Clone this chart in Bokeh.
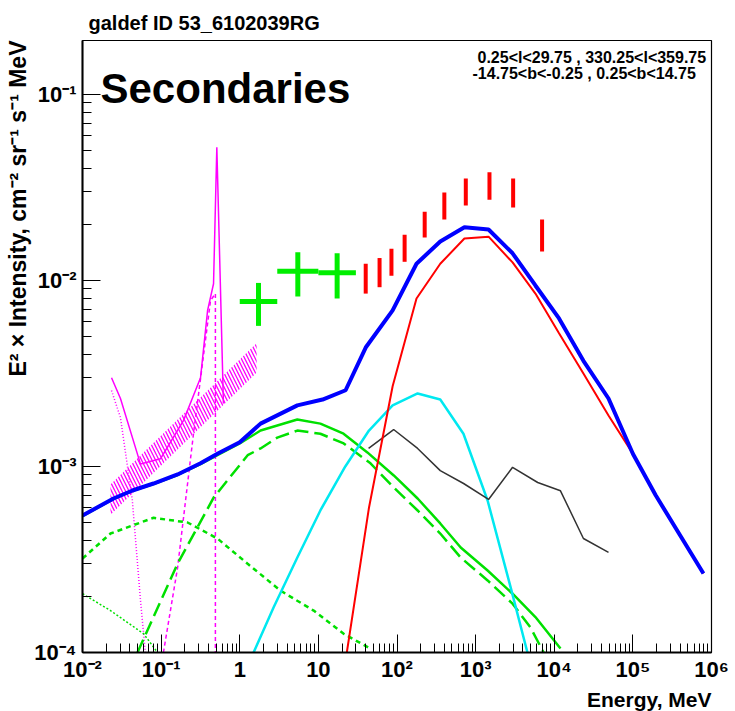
import math
import numpy as np
from bokeh.plotting import figure
from bokeh.models import Label, FixedTicker, Title
from bokeh.embed import file_html
from bokeh.resources import INLINE

FONT = "Liberation Sans"

# ---- data (energy in MeV, E^2 x intensity) ----
total_e = [0.01, 0.0248, 0.0432, 0.08, 0.162, 0.317, 0.52, 1.0, 1.84, 5.4, 11.3, 22.2,
           40, 88, 177, 355, 720, 1460, 2950, 5760, 1.15e4, 2.35e4, 4.9e4, 1.0e5,
           1.95e5, 4.0e5, 7.9e5]
total_v = [5.45e-4, 6.73e-4, 7.43e-4, 8.1e-4, 9.06e-4, 1.04e-3, 1.17e-3, 1.35e-3, 1.7e-3,
           2.13e-3, 2.29e-3, 2.57e-3, 4.36e-3, 6.9e-3, 1.23e-2, 1.62e-2, 1.93e-2, 1.88e-2,
           1.4e-2, 9.4e-3, 6.25e-3, 3.7e-3, 2.32e-3, 1.17e-3, 7.0e-4, 4.26e-4, 2.66e-4]

pi0_e = [23, 44, 88, 177, 355, 720, 1460, 2950, 5760, 1.15e4, 2.35e4, 4.9e4, 1.0e5,
         1.95e5, 4.0e5, 7.9e5]
pi0_v = [1.0e-4, 6.0e-4, 2.7e-3, 8.0e-3, 1.23e-2, 1.68e-2, 1.72e-2, 1.25e-2, 8.5e-3,
         5.2e-3, 3.16e-3, 1.88e-3, 1.17e-3, 7.0e-4, 4.26e-4, 2.66e-4]

ic_e = [0.01, 0.0248, 0.0432, 0.08, 0.162, 0.317, 0.52, 1.0, 1.84, 5.4, 10.6, 20.9, 42,
        91, 183, 355, 646, 1420, 2950, 5760, 1.2e4]
ic_v = [5.4e-4, 6.7e-4, 7.4e-4, 8.05e-4, 9.0e-4, 1.03e-3, 1.15e-3, 1.33e-3, 1.56e-3,
        1.79e-3, 1.7e-3, 1.5e-3, 1.19e-3, 8.95e-4, 6.73e-4, 4.94e-4, 3.67e-4, 2.76e-4,
        2.07e-4, 1.55e-4, 1.05e-4]

icopt_e = [0.05, 0.162, 0.465, 1.26, 1.84, 3.0, 5.4, 10.6, 21, 46, 91, 183, 355, 646,
           1420, 2950, 5000, 7330]
icopt_v = [1.0e-4, 3.0e-4, 6.8e-4, 1.15e-3, 1.25e-3, 1.43e-3, 1.56e-3, 1.5e-3, 1.33e-3,
           1.04e-3, 7.7e-4, 5.8e-4, 4.36e-4, 3.24e-4, 2.44e-4, 1.83e-4, 1.36e-4, 1.0e-4]

icir_e = [0.01, 0.0227, 0.08, 0.217, 0.52, 1.26, 3.3, 8.7, 21, 44]
icir_v = [3.2e-4, 4.36e-4, 5.3e-4, 5.0e-4, 4.1e-4, 3.0e-4, 2.15e-4, 1.68e-4, 1.26e-4, 1.06e-4]

iccmb_e = [0.01, 0.0227, 0.06, 0.09]
iccmb_v = [2.07e-4, 1.68e-4, 1.26e-4, 1.0e-4]

brem_e = [1.5, 2.7, 5.4, 10.6, 22, 44, 88, 183, 355, 700, 1420, 2790, 4560]
brem_v = [1.0e-4, 1.75e-4, 3.24e-4, 5.8e-4, 1.0e-3, 1.56e-3, 2.13e-3, 2.47e-3, 2.29e-3,
          1.5e-3, 6.56e-4, 2.24e-4, 1.0e-4]

src_e = [43.5, 90.6, 183, 355, 703, 1460, 2950, 6160, 1.2e4, 2.35e4, 4.9e4]
src_v = [1.25e-3, 1.58e-3, 1.25e-3, 9.5e-4, 8.1e-4, 6.65e-4, 9.9e-4, 8.2e-4, 7.4e-4,
         4.1e-4, 3.45e-4]

mag_solid_e = [0.0234, 0.0304, 0.0547, 0.098, 0.193, 0.317, 0.39, 0.464, 0.511, 0.62]
mag_solid_v = [3.0e-3, 2.32e-3, 1.03e-3, 1.1e-3, 1.77e-3, 3.0e-3, 6.9e-3, 9.6e-3, 5.2e-2, 2.18e-3]

mag_dot_e = [0.0234, 0.0304, 0.043, 0.0547, 0.063]
mag_dot_v = [2.56e-3, 1.83e-3, 6.6e-4, 1.9e-4, 1.0e-4]

mag_dash_e = [0.107, 0.162, 0.258, 0.425, 0.49, 0.49]
mag_dash_v = [1.0e-4, 2.86e-4, 1.5e-3, 7.8e-3, 8.5e-3, 5.0e-5]

band_e = [0.0227, 1.64]
band_lo = [5.5e-4, 3.2e-3]
band_hi = [8.0e-4, 4.6e-3]

comptel_emin = [1.0, 3.0, 10.0]
comptel_emax = [3.0, 10.0, 30.0]
comptel_v = [7.7e-3, 1.12e-2, 1.1e-2]
comptel_err = [2.0e-3, 3.0e-3, 3.0e-3]

egret_e = [40, 60, 85, 125, 225, 400, 750, 1500, 3000, 7000]
egret_v = [1.04e-2, 1.12e-2, 1.27e-2, 1.51e-2, 2.02e-2, 2.55e-2, 3.03e-2, 3.27e-2, 3.0e-2, 1.78e-2]
egret_err = [1.9e-3, 2.0e-3, 2.1e-3, 2.5e-3, 3.2e-3, 4.2e-3, 5.0e-3, 5.5e-3, 5.3e-3, 3.5e-3]

x_ticks = [1e-2, 1e-1, 1.0, 10.0, 100.0, 1e3, 1e4, 1e5, 1e6]
x_tick_labels = ["10\u207b\u00b2", "10\u207b\u00b9", "1", "10", "10\u00b2", "10\u00b3",
                 "10\u2074", "10\u2075", "10\u2076"]
y_ticks = [1e-4, 1e-3, 1e-2, 1e-1]
y_tick_labels = ["10\u207b\u2074", "10\u207b\u00b3", "10\u207b\u00b2", "10\u207b\u00b9"]

title_text = "galdef ID 53_6102039RG"
region_line1 = "0.25<l<29.75 , 330.25<l<359.75"
region_line2 = "-14.75<b<-0.25 ,  0.25<b<14.75"
x_label = "Energy, MeV"
y_label = "E\u00b2 \u00d7 Intensity, cm\u207b\u00b2 sr\u207b\u00b9 s\u207b\u00b9 MeV"

# ---- figure ----
p = figure(width=735, height=711, x_axis_type="log", y_axis_type="log",
           x_range=(1e-2, 1e6), y_range=(1e-4, 0.195),
           output_backend="svg", toolbar_location=None)
p.min_border_left = 82
p.min_border_right = 24
p.min_border_top = 40
p.min_border_bottom = 59
p.background_fill_color = "white"
p.border_fill_color = "white"
p.outline_line_color = "black"
p.outline_line_width = 1.2
p.grid.visible = False

p.title.text = title_text
p.title.align = "left"
p.title.offset = 6
p.title.standoff = 14
p.title.text_font = FONT
p.title.text_font_style = "bold"
p.title.text_font_size = "20px"
p.title.text_color = "black"

x_minor = [k * 10.0 ** n for n in range(-2, 6) for k in range(2, 10)]
y_minor = [k * 10.0 ** n for n in range(-4, -1) for k in range(2, 10)] + [0.2]
p.xaxis.ticker = FixedTicker(ticks=x_ticks, minor_ticks=x_minor)
p.yaxis.ticker = FixedTicker(ticks=y_ticks, minor_ticks=y_minor)
p.xaxis.major_label_overrides = dict(zip(x_ticks, x_tick_labels))
p.yaxis.major_label_overrides = dict(zip(y_ticks, y_tick_labels))

for ax in (p.xaxis, p.yaxis):
    ax.axis_line_width = 2
    ax.axis_line_color = "black"
    ax.major_tick_in = 18
    ax.major_tick_out = 0
    ax.minor_tick_in = 9
    ax.minor_tick_out = 0
    ax.major_tick_line_color = "black"
    ax.minor_tick_line_color = "black"
    ax.major_label_text_font = FONT
    ax.major_label_text_font_style = "bold"
    ax.major_label_text_font_size = "22px"
    ax.major_label_text_color = "black"
p.xaxis.major_label_standoff = 4
p.yaxis.major_label_standoff = 6

p.add_layout(Title(text=x_label, align="right", text_font=FONT, text_font_style="bold",
                   text_font_size="21px", text_color="black", standoff=2), "below")
p.add_layout(Title(text=y_label, align="right", text_font=FONT, text_font_style="bold",
                   text_font_size="23px", text_color="black", standoff=2), "left")

# hatched band
p.varea(x=band_e, y1=band_lo, y2=band_hi, fill_color=None, fill_alpha=0,
        hatch_pattern="\\", hatch_color="#ff00ff", hatch_weight=1.3, hatch_scale=7)

MAG = "#ff00ff"
p.line(mag_solid_e, mag_solid_v, line_color=MAG, line_width=1.5)
p.line(mag_dot_e, mag_dot_v, line_color=MAG, line_width=1.5, line_dash="1 2")
p.line(mag_dash_e, mag_dash_v, line_color=MAG, line_width=1.5, line_dash="4 3")

GREEN = "#00e000"
p.line(iccmb_e, iccmb_v, line_color=GREEN, line_width=1.5, line_dash="2 2")
p.line(icir_e, icir_v, line_color=GREEN, line_width=2.5, line_dash="5 4")
p.line(icopt_e, icopt_v, line_color=GREEN, line_width=2.5, line_dash="14 6")
p.line(ic_e, ic_v, line_color=GREEN, line_width=2.5)

p.line(brem_e, brem_v, line_color="#00e8f0", line_width=2.5)
p.line(src_e, src_v, line_color="#333333", line_width=1.5)
p.line(pi0_e, pi0_v, line_color="#ff0000", line_width=2)
p.line(total_e, total_v, line_color="#0000ff", line_width=4)

# COMPTEL crosses
c_mid = np.sqrt(np.array(comptel_emin) * np.array(comptel_emax))
c_v = np.array(comptel_v)
c_err = np.array(comptel_err)
p.segment(x0=comptel_emin, y0=comptel_v, x1=comptel_emax, y1=comptel_v,
          line_color="#00ee00", line_width=5)
p.segment(x0=c_mid, y0=c_v - c_err, x1=c_mid, y1=c_v + c_err,
          line_color="#00ee00", line_width=5)

# EGRET bars
e_v = np.array(egret_v)
e_err = np.array(egret_err)
p.segment(x0=egret_e, y0=e_v - e_err, x1=egret_e, y1=e_v + e_err,
          line_color="#ff0000", line_width=4)

# in-frame texts (screen units relative to the frame's bottom-left)
p.add_layout(Label(x=18, y=564, x_units="screen", y_units="screen", text="Secondaries",
                   text_font=FONT, text_font_style="bold", text_font_size="42px",
                   text_color="black", text_baseline="alphabetic"))
p.add_layout(Label(x=395, y=595, x_units="screen", y_units="screen", text=region_line1,
                   text_font=FONT, text_font_style="bold", text_font_size="16px",
                   text_color="black", text_baseline="alphabetic"))
p.add_layout(Label(x=390, y=579, x_units="screen", y_units="screen", text=region_line2,
                   text_font=FONT, text_font_style="bold", text_font_size="16px",
                   text_color="black", text_baseline="alphabetic"))

open("out.html", "w").write(file_html(p, INLINE))
